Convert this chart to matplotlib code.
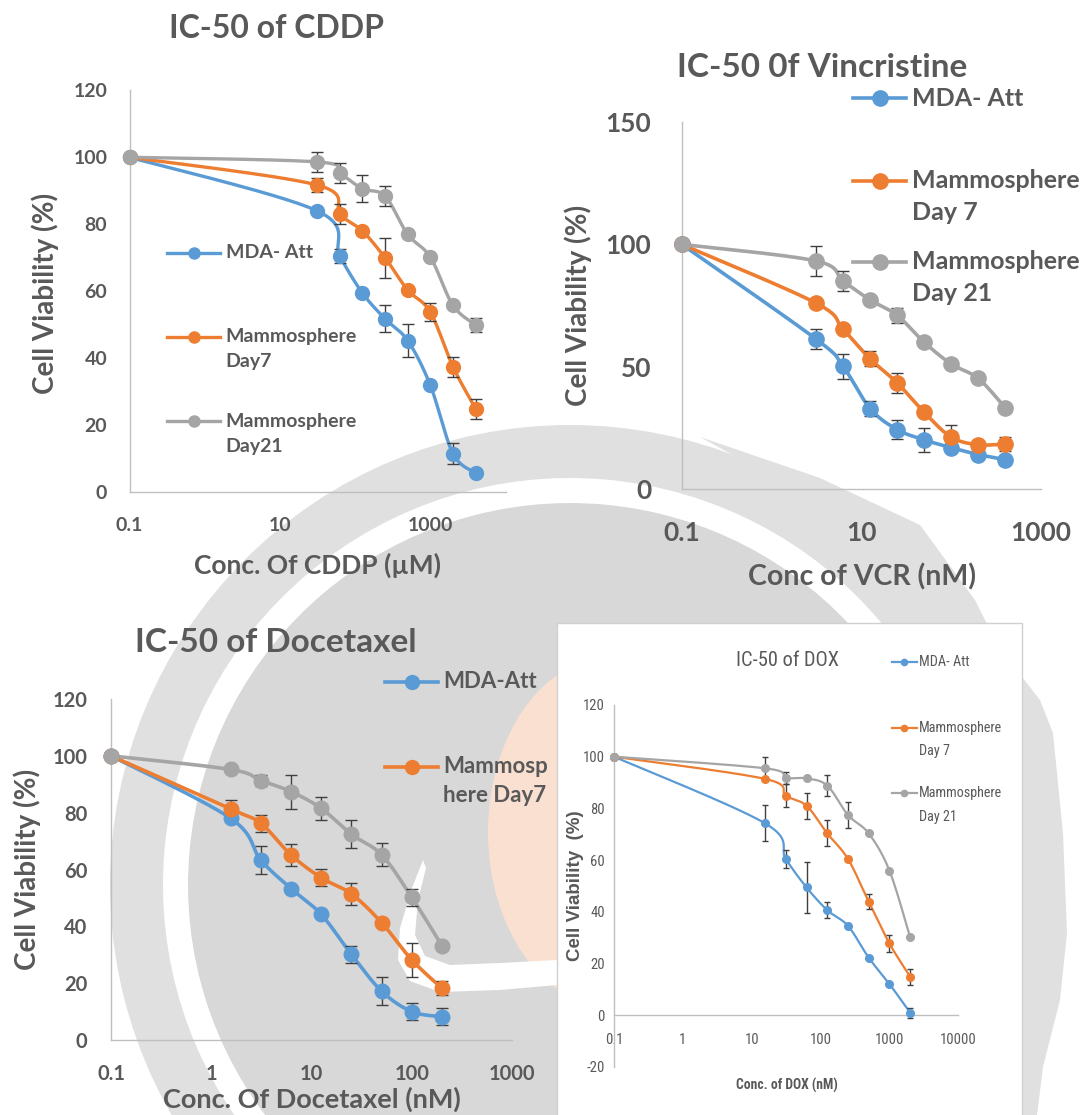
import numpy as np
import matplotlib
matplotlib.use("Agg")
import matplotlib.pyplot as plt
from matplotlib.lines import Line2D
from matplotlib.patches import Circle, Wedge, Rectangle, Ellipse, Polygon
from matplotlib.ticker import NullLocator

# ---------------- data ----------------
cddp_conc = [0.1, 31.25, 62.5, 125, 250, 500, 1000, 2000, 4000]
cddp_mda = [100, 84, 70.5, 59.5, 51.8, 45.3, 32, 11.6, 5.8]
cddp_mda_err = [0, 0, 2, 0, 4, 5, 0, 3, 0]
cddp_d7 = [100, 91.7, 83, 78, 70, 60.4, 53.8, 37.5, 25]
cddp_d7_err = [0, 2, 3, 0, 6, 0, 2.8, 3, 3]
cddp_d21 = [100, 98.6, 95.2, 90.6, 88.4, 77, 70.2, 55.8, 50]
cddp_d21_err = [0, 3, 3, 4, 3, 0, 0, 0, 2]

vcr_conc = [0.1, 3.125, 6.25, 12.5, 25, 50, 100, 200, 400]
vcr_mda = [100, 61.3, 50.1, 32.9, 24.3, 20.1, 16.9, 14.1, 12]
vcr_mda_err = [0, 4, 5, 3, 4, 5, 0, 0, 0]
vcr_d7 = [100, 76, 65.3, 53.2, 43.4, 31.4, 21.2, 18.1, 18.4]
vcr_d7_err = [0, 0, 0, 3, 4, 0, 5, 0, 3]
vcr_d21 = [100, 93.2, 85, 77.3, 71, 60, 51.1, 45.2, 33.2]
vcr_d21_err = [0, 6, 4, 0, 3, 0, 0, 0, 0]

doc_conc = [0.1, 1.5625, 3.125, 6.25, 12.5, 25, 50, 100, 200]
doc_mda = [100, 78, 63.3, 53.3, 44.2, 30.1, 17.2, 10, 8.2]
doc_mda_err = [0, 0, 5, 0, 0, 3, 5, 3, 3]
doc_d7 = [100, 81.3, 76.2, 65.1, 57.1, 51.4, 41.3, 28.2, 18.2]
doc_d7_err = [0, 3, 3, 4, 3, 3.8, 0, 6, 2.5]
doc_d21 = [100, 95.2, 91.3, 87.4, 81.5, 72.4, 65.2, 50.2, 33.2]
doc_d21_err = [0, 0, 2, 6, 4, 5, 4, 3, 0]

dox_conc = [0.1, 15.625, 31.25, 62.5, 125, 250, 500, 1000, 2000]
dox_mda = [100, 74.2, 60.4, 49.4, 40.6, 34.5, 22.2, 12, 0.9]
dox_mda_err = [0, 7, 3.4, 10, 3, 0, 0, 0, 2]
dox_d7 = [100, 91.4, 84.9, 81, 70.3, 60.4, 43.9, 27.7, 14.8]
dox_d7_err = [0, 0, 4.5, 5, 5, 0, 3, 3.2, 3]
dox_d21 = [100, 95.5, 91.9, 91.6, 88.8, 77.4, 70.3, 55.9, 30.1]
dox_d21_err = [0, 4.3, 2.3, 0, 4.2, 5.2, 0, 0, 0]

cddp_xticks = [0.1, 10, 1000]
cddp_xticklabels = ["0.1", "10", "1000"]
cddp_yticks = [0, 20, 40, 60, 80, 100, 120]
vcr_xticks = [0.1, 10, 1000]
vcr_xticklabels = ["0.1", "10", "1000"]
vcr_yticks = [0, 50, 100, 150]
doc_xticks = [0.1, 1, 10, 100, 1000]
doc_xticklabels = ["0.1", "1", "10", "100", "1000"]
doc_yticks = [0, 20, 40, 60, 80, 100, 120]
dox_xticks = [0.1, 1, 10, 100, 1000, 10000]
dox_xticklabels = ["0.1", "1", "10", "100", "1000", "10000"]
dox_yticks = [-20, 0, 20, 40, 60, 80, 100, 120]

cddp_legend = [["MDA- Att"], ["Mammosphere", "Day7"], ["Mammosphere", "Day21"]]
vcr_legend = [["MDA- Att"], ["Mammosphere", "Day 7"], ["Mammosphere", "Day 21"]]
doc_legend = [["MDA-Att"], ["Mammosp", "here Day7"]]
dox_legend = [["MDA- Att"], ["Mammosphere", "Day 7"], ["Mammosphere", "Day 21"]]

# ---------------- style ----------------
W, H = 1082, 1115
BLUE, ORANGE, GRAY = "#5B9BD5", "#ED7D31", "#A5A5A5"
COLORS = [BLUE, ORANGE, GRAY]
TXT = "#595959"
AXC = "#BFBFBF"
ERR = "#404040"
BOLD = "Lato"
NARROW = ["Roboto Condensed", "DejaVu Sans"]
NSTRETCH = "condensed"

fig = plt.figure(figsize=(W / 100, H / 100), dpi=100)
fig.patch.set_facecolor("white")

# ---------------- watermark background ----------------
bg = fig.add_axes([0, 0, 1, 1], zorder=-10)
bg.set_xlim(0, W)
bg.set_ylim(H, 0)
bg.axis("off")
cx, cy = 570, 885
bg.add_patch(Circle((cx, cy), 460, color="#e0e0e0", lw=0))
bg.add_patch(Polygon([(700, 437), (820, 478), (920, 525), (975, 600), (995, 640),
                      (930, 640), (850, 560), (760, 470)], closed=True, color="#e0e0e0", lw=0))
bg.add_patch(Circle((cx, cy), 382, color="#d8d8d8", lw=0))
bg.add_patch(Wedge((cx, cy), 407, 140, 320, width=25, color="white", lw=0))
bg.add_patch(Ellipse((612, 832), 248, 350, color="#f9e0d1", lw=0))
bg.add_patch(Polygon([(423, 860), (412, 888), (400, 928), (398, 960), (410, 981),
                      (440, 992), (500, 990), (557, 985), (557, 960), (500, 963),
                      (450, 965), (425, 956), (415, 935), (418, 900), (426, 868)],
                     closed=True, color="white", lw=0))
bg.add_patch(Polygon([(1022, 677), (1040, 700), (1053, 733), (1063, 833), (1067, 933),
                      (1060, 1000), (1043, 1067), (1037, 1115), (1022, 1115)],
                     closed=True, color="#e0e0e0", lw=0))
bg.add_patch(Rectangle((557, 623), 465, 520, facecolor="white", edgecolor="#d0d0d0", lw=1.0))


def fx(x):
    return x / W


def fy(y):
    return 1 - y / H


def smooth(ax, x, y, n=30):
    P = ax.transData.transform(np.column_stack([x, y]))
    out = [P[0]]
    m = len(P)
    t = np.linspace(0, 1, n)[1:, None]
    for i in range(m - 1):
        p0 = P[i - 1] if i > 0 else P[i]
        p1, p2 = P[i], P[i + 1]
        p3 = P[i + 2] if i + 2 < m else P[i + 1]
        c1 = p1 + (p2 - p0) / 6.0
        c2 = p2 - (p3 - p1) / 6.0
        seg = ((1 - t) ** 3) * p1 + 3 * ((1 - t) ** 2) * t * c1 + 3 * (1 - t) * t ** 2 * c2 + t ** 3 * p2
        out.extend(seg)
    out = ax.transData.inverted().transform(np.array(out))
    return out[:, 0], out[:, 1]


def panel(box, xlim, ylim, xticks, xticklabels, yticks, data, ms, lw, cap, elw,
          tfont, tsize, tweight, xpad, ypad, zero_spine=False, tstretch="normal"):
    l, t, r, b = box
    ax = fig.add_axes([fx(l), fy(b), (r - l) / W, (b - t) / H])
    ax.set_facecolor("none")
    ax.set_xscale("log")
    ax.set_xlim(*xlim)
    ax.set_ylim(*ylim)
    for s in ["top", "right"]:
        ax.spines[s].set_visible(False)
    for s in ["left", "bottom"]:
        ax.spines[s].set_color(AXC)
        ax.spines[s].set_linewidth(1.0)
    if zero_spine:
        ax.spines["bottom"].set_position(("data", 0))
    ax.set_xticks(xticks)
    ax.set_xticklabels(xticklabels)
    ax.xaxis.set_minor_locator(NullLocator())
    ax.set_yticks(yticks)
    ax.set_yticklabels([str(v) for v in yticks])
    ax.tick_params(axis="x", length=0, pad=xpad, labelcolor=TXT)
    ax.tick_params(axis="y", length=0, pad=ypad, labelcolor=TXT)
    for lab in ax.get_xticklabels() + ax.get_yticklabels():
        lab.set_family(tfont)
        lab.set_fontsize(tsize)
        lab.set_fontweight(tweight)
        lab.set_fontstretch(tstretch)
    for (conc, vals, err), col in zip(data, COLORS):
        xs, ys = smooth(ax, conc, vals)
        ax.plot(xs, ys, color=col, lw=lw, solid_capstyle="round", zorder=2, clip_on=False)
        idx = [i for i, e in enumerate(err) if e > 0]
        if idx:
            ax.errorbar([conc[i] for i in idx], [vals[i] for i in idx],
                        yerr=[err[i] for i in idx], fmt="none", ecolor=ERR,
                        elinewidth=elw, capsize=cap, capthick=elw, zorder=2.5, clip_on=False)
        ax.plot(conc, vals, "o", ms=ms, color=col, mec=col, zorder=3, clip_on=False)
    return ax


def legend(x0, x1, tx, rows, labels, ms, lw, size, family, weight, stretch="normal"):
    for row, lab, col in zip(rows, labels, COLORS):
        y = row[0]
        fig.add_artist(Line2D([fx(x0), fx(x1)], [fy(y), fy(y)], color=col, lw=lw,
                              transform=fig.transFigure))
        fig.add_artist(Line2D([fx((x0 + x1) / 2)], [fy(y)], marker="o", ms=ms, color=col,
                              transform=fig.transFigure))
        for yy, txt in zip(row, lab):
            fig.text(fx(tx), fy(yy), txt, ha="left", va="center", color=TXT,
                     family=family, fontsize=size, fontweight=weight, fontstretch=stretch)


def label(x, y, txt, size, family=BOLD, weight="bold", rot=0, stretch="normal"):
    fig.text(fx(x), fy(y), txt, ha="center", va="center", rotation=rot, color=TXT,
             family=family, fontsize=size, fontweight=weight, fontstretch=stretch)


# ---------------- panel 1: CDDP ----------------
panel((129.5, 90.2, 505.5, 492.4), (0.1, 10000), (0, 120), cddp_xticks, cddp_xticklabels,
      cddp_yticks,
      [(cddp_conc, cddp_mda, cddp_mda_err), (cddp_conc, cddp_d7, cddp_d7_err),
       (cddp_conc, cddp_d21, cddp_d21_err)],
      ms=10, lw=2.4, cap=4.5, elw=1.0, tfont=BOLD, tsize=14, tweight="bold", xpad=18, ypad=16)
label(276.5, 29, "IC-50 of CDDP", 23)
label(45, 293.5, "Cell Viability (%)", 20, rot=90)
label(318, 565, "Conc. Of CDDP (\u00b5M)", 19)
legend(167, 220, 225.5, [(253,), (336.8, 362), (421, 446.6)], cddp_legend,
       ms=8, lw=2.4, size=14, family=BOLD, weight="bold")

# ---------------- panel 2: VCR ----------------
panel((681.7, 122, 1041, 489), (0.1, 1000), (0, 150), vcr_xticks, vcr_xticklabels,
      vcr_yticks,
      [(vcr_conc, vcr_mda, vcr_mda_err), (vcr_conc, vcr_d7, vcr_d7_err),
       (vcr_conc, vcr_d21, vcr_d21_err)],
      ms=11, lw=2.6, cap=4.5, elw=1.0, tfont=BOLD, tsize=19, tweight="bold", xpad=23, ypad=22)
label(821.7, 67.3, "IC-50 0f Vincristine", 24)
label(578.7, 305, "Cell Viability (%)", 20, rot=90)
label(861.5, 577, "Conc of VCR (nM)", 20.5)
legend(853, 906, 911.6, [(98.4,), (180.7, 212.5), (261.5, 293.7)], vcr_legend,
       ms=11, lw=2.6, size=18, family=BOLD, weight="bold")

# ---------------- panel 3: Docetaxel ----------------
panel((111, 699, 512, 1040), (0.1, 1000), (0, 120), doc_xticks, doc_xticklabels,
      doc_yticks,
      [(doc_conc, doc_mda, doc_mda_err), (doc_conc, doc_d7, doc_d7_err),
       (doc_conc, doc_d21, doc_d21_err)],
      ms=10.5, lw=2.6, cap=4.5, elw=1.0, tfont=BOLD, tsize=14.5, tweight="bold", xpad=17.5, ypad=17)
label(276, 642.7, "IC-50 of Docetaxel", 24)
label(27, 869, "Cell Viability (%)", 20, rot=90)
label(311.7, 1099, "Conc. Of Docetaxel (nM)", 19.5)
legend(385, 438, 443, [(682,), (766.7, 795.7)], doc_legend,
       ms=10, lw=2.6, size=16, family=BOLD, weight="bold")

# ---------------- panel 4: DOX ----------------
panel((614, 705, 958.3, 1066.7), (0.1, 10000), (-20, 120), dox_xticks, dox_xticklabels,
      dox_yticks,
      [(dox_conc, dox_mda, dox_mda_err), (dox_conc, dox_d7, dox_d7_err),
       (dox_conc, dox_d21, dox_d21_err)],
      ms=5.5, lw=1.6, cap=2.5, elw=1.0, tfont=NARROW, tsize=10.5, tweight="normal",
      xpad=13, ypad=6.5, zero_spine=True, tstretch=NSTRETCH)
label(788, 660, "IC-50 of DOX", 14.7, family=NARROW, weight="normal", stretch=NSTRETCH)
label(575, 885.7, "Cell Viability  (%)", 13.5, family=["Liberation Sans", "DejaVu Sans"], rot=90)
label(786.7, 1085, "Conc. of DOX (nM)", 9.8, family=NARROW, stretch=NSTRETCH)
legend(891.7, 916.7, 919.3, [(661.7,), (727.7, 750.7), (793.3, 816.7)], dox_legend,
       ms=4.5, lw=1.6, size=10.2, family=NARROW, weight="normal", stretch=NSTRETCH)

fig.savefig("out.png", dpi=100, facecolor="white")
